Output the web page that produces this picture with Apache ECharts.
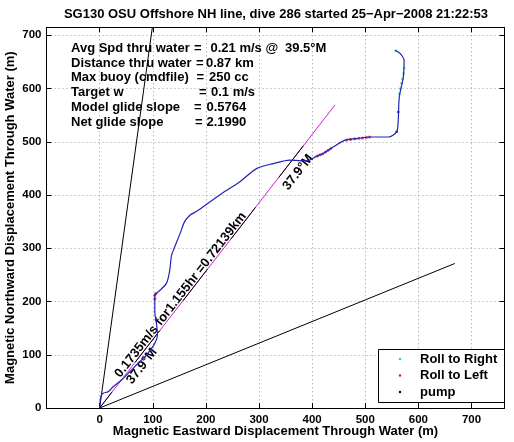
<!DOCTYPE html>
<html><head><meta charset="utf-8">
<script src="https://cdn.jsdelivr.net/npm/echarts@6/dist/echarts.min.js"></script>
<style>html,body{margin:0;padding:0;background:#fff}#c{width:514px;height:442px}</style>
</head><body><div id="c"></div>
<script>
// ---- data (metres, magnetic east / north through water) ----
const trackX = [0, 0.5, 2.2, 6.6, 16, 25.4, 41, 56.8, 72.4, 88, 103.8, 108.8, 107, 103.8, 103.8, 110, 125.7, 132, 135, 139, 151.5, 160, 170, 182, 195, 230, 264, 296, 327, 358, 390, 408.6, 421, 440, 462, 484, 509, 543, 559, 562, 564, 571.6, 573, 565.4, 556];
const trackY = [0, 6, 21, 27.6, 30.6, 40, 52.6, 68, 84, 99.5, 121.4, 137, 159, 181, 212, 218, 234, 259, 285, 297, 328, 350, 362, 369, 378, 403, 425, 450, 459, 465.5, 464, 473, 478, 490.5, 503, 506, 509, 509, 519, 541, 584, 622, 653, 666, 672];
const rollRightX = [564, 566, 568, 570, 572, 573, 557];
const rollRightY = [590, 600, 610, 618, 628, 638, 671];
const rollLeftX = [104, 104, 106, 410, 415, 420, 425, 430, 435, 465, 472, 480, 488, 495, 502, 508];
const rollLeftY = [205, 212, 215, 473.5, 475.5, 477.6, 480.6, 484, 487.2, 503.4, 504.4, 505.5, 506.5, 507.3, 508.2, 509];
const pumpX = [562, 559];
const pumpY = [556, 519];
const headingDeg = 37.9;      // magnetic heading of net track
const netDistM = 721.39;      // 0.72139 km
const spreadDeg = 30;         // +/- heading lines
const xTickLabels = [0, 100, 200, 300, 400, 500, 600, 700];
const yTickLabels = [0, 100, 200, 300, 400, 500, 600, 700];
const titleText = 'SG130 OSU Offshore NH line, dive 286 started 25\u2212Apr\u22122008 21:22:53';
const infoLines = [
  [['Avg Spd thru water', 71], ['=', 194], ['0.21 m/s @', 210.5], ['39.5\u00b0M', 285]],
  [['Distance thru water', 71], ['=', 196], ['0.87 km', 206]],
  [['Max buoy (cmdfile)', 71], ['=', 196.5], ['250 cc', 209]],
  [['Target w', 71], ['=', 199], ['0.1 m/s', 211]],
  [['Model glide slope', 71], ['=', 194], ['0.5764', 206.5]],
  [['Net glide slope', 71], ['=', 195], ['2.1990', 206.5]]
];
const lineLabel = '0.1735m/s for1.155hr =0.72139km';
const headLabel = '37.9\u00b0M';

const FONT = '"Liberation Sans", Arial, Helvetica, sans-serif';
const rad = d => d * Math.PI / 180;
const ray = (deg, len) => [[0, 0], [len * Math.sin(rad(deg)), len * Math.cos(rad(deg))]];
const zip = (a, b) => a.map((v, i) => [v, b[i]]);

const chart = echarts.init(document.getElementById('c'), null, {renderer: 'canvas'});
const tickFmt = list => v => (list.indexOf(v) >= 0 ? String(v) : '');
const baseAxis = {
  type: 'value', interval: 100,
  axisLine: {show: true, onZero: false, lineStyle: {color: '#000', width: 1}},
  axisTick: {show: true, inside: true, length: 5, lineStyle: {color: '#000'}}
};
const labelStyle = {color: '#000', fontSize: 11.5, fontWeight: 'bold', fontFamily: FONT};
const nameStyle = {color: '#000', fontSize: 13, fontWeight: 'bold', fontFamily: FONT};
const grid = {color: '#9a9a9a', type: [1, 3], width: 1};

chart.setOption({
  animation: false,
  backgroundColor: '#fff',
  title: {text: titleText, left: 276, top: 8, textAlign: 'center', padding: 0,
    textStyle: {fontSize: 13, fontWeight: 'bold', fontFamily: FONT, color: '#000'}},
  grid: {left: 46.5, right: 9.5, top: 27.3, bottom: 34, containLabel: false, outerBoundsMode: 'none'},
  xAxis: [
    Object.assign({}, baseAxis, {min: -100, max: 762, position: 'bottom',
      axisLabel: Object.assign({margin: 6, formatter: tickFmt(xTickLabels)}, labelStyle),
      splitLine: {show: true, lineStyle: grid},
      name: 'Magnetic Eastward Displacement Through Water (m)', nameLocation: 'middle', nameGap: 17,
      nameMoveOverlap: false, nameTextStyle: nameStyle}),
    Object.assign({}, baseAxis, {min: -100, max: 762, position: 'top', axisLabel: {show: false}, splitLine: {show: false}})
  ],
  yAxis: [
    Object.assign({}, baseAxis, {min: 0, max: 715, position: 'left',
      axisLabel: Object.assign({margin: 5, formatter: tickFmt(yTickLabels)}, labelStyle),
      splitLine: {show: true, lineStyle: grid},
      name: 'Magnetic Northward Displacement Through Water (m)', nameLocation: 'middle', nameGap: 30, nameRotate: 90,
      nameMoveOverlap: false, nameTextStyle: nameStyle}),
    Object.assign({}, baseAxis, {min: 0, max: 715, position: 'right', axisLabel: {show: false}, splitLine: {show: false}})
  ],
  series: [
    {name: 'heading-30', type: 'line', data: ray(headingDeg - spreadDeg, netDistM), showSymbol: false, silent: true,
      lineStyle: {color: '#000', width: 1}, clip: true},
    {name: 'heading+30', type: 'line', data: ray(headingDeg + spreadDeg, netDistM), showSymbol: false, silent: true,
      lineStyle: {color: '#000', width: 1}, clip: true},
    {name: 'net', type: 'line', data: ray(headingDeg, netDistM), showSymbol: false, silent: true,
      lineStyle: {color: '#d818d8', width: 1}},
    {name: 'net-black', type: 'line', data: ray(headingDeg, netDistM * 0.96), showSymbol: false, silent: true,
      lineStyle: {color: '#000', width: 1, type: [40, 38], dashOffset: 20}},
    {name: 'track', type: 'line', data: zip(trackX, trackY), showSymbol: false, smooth: 0.3,
      lineStyle: {color: '#2222b8', width: 1.2}},
    {name: 'Roll to Right', type: 'scatter', data: zip(rollRightX, rollRightY), symbolSize: 2.5,
      itemStyle: {color: '#20e060'}},
    {name: 'Roll to Left', type: 'scatter', data: zip(rollLeftX, rollLeftY), symbolSize: 3,
      itemStyle: {color: '#b01050', opacity: 0.75}},
    {name: 'pump', type: 'scatter', data: zip(pumpX, pumpY), symbolSize: 2.5,
      itemStyle: {color: '#000'}}
  ]
});

// annotations
const gfx = [];
infoLines.forEach((segs, i) => {
  segs.forEach(([t, x]) => {
    gfx.push({type: 'text', x: x, y: 48.3 + i * 14.8, silent: true,
      style: {text: t, font: 'bold 13px ' + FONT, fill: '#000', align: 'left', verticalAlign: 'middle'}});
  });
});
const o = chart.convertToPixel({xAxisIndex: 0, yAxisIndex: 0}, [0, 0]);
const h = rad(headingDeg);
const dir = [Math.sin(h), -Math.cos(h)], nrm = [Math.cos(h), Math.sin(h)];
const rot = Math.PI / 2 - h;
function along(a, p) { return [o[0] + a * dir[0] + p * nrm[0], o[1] + a * dir[1] + p * nrm[1]]; }
[[lineLabel, 139, -5.5], [headLabel, 59, 7.7], [headLabel, 308, 11.8]].forEach(([t, a, p]) => {
  const q = along(a, p);
  gfx.push({type: 'text', x: q[0], y: q[1], rotation: rot, silent: true,
    style: {text: t, font: 'bold 13px ' + FONT, fill: '#000', align: 'center', verticalAlign: 'middle'}});
});
// legend box
const lg = {x: 378.5, y: 349.5, w: 126, h: 53};
gfx.push({type: 'rect', shape: {x: lg.x, y: lg.y, width: lg.w, height: lg.h}, style: {fill: '#fff', stroke: '#000', lineWidth: 1}, z: 10});
[['Roll to Right', '#20e060'], ['Roll to Left', '#c02020'], ['pump', '#000']].forEach(([t, c], i) => {
  const yy = lg.y + 9.5 + i * 16.5;
  gfx.push({type: 'circle', shape: {cx: 400, cy: yy, r: 1.2}, style: {fill: c}, z: 11});
  gfx.push({type: 'text', x: 420, y: yy, z: 11,
    style: {text: t, font: 'bold 13px ' + FONT, fill: '#000', align: 'left', verticalAlign: 'middle'}});
});
chart.setOption({graphic: gfx});
</script>
</body></html>
